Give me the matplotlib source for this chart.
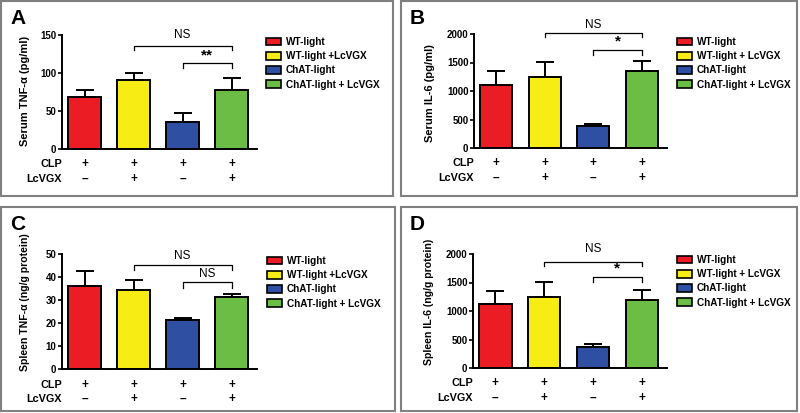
import numpy as np
import matplotlib.pyplot as plt
from matplotlib.patches import Patch, Rectangle

plt.rcParams['font.family'] = ['Liberation Sans', 'DejaVu Sans']
plt.rcParams['font.weight'] = 'bold'

colors = ['#ec1c24', '#f7ec14', '#2e4fa2', '#6bbd45']

# panel A - serum TNF-a
a_vals = [68, 91, 36, 78]
a_sem = [9, 9, 11, 16]
a_legend = ['WT-light', 'WT-light +LcVGX', 'ChAT-light', 'ChAT-light + LcVGX']

# panel B - serum IL-6
b_vals = [1106, 1241, 385, 1353]
b_sem = [247, 265, 30, 176]
b_legend = ['WT-light', 'WT-light + LcVGX', 'ChAT-light', 'ChAT-light + LcVGX']

# panel C - spleen TNF-a
c_vals = [36.3, 34.2, 21.1, 31.3]
c_sem = [6.3, 4.6, 1.2, 1.1]
c_legend = ['WT-light', 'WT-light +LcVGX', 'ChAT-light', 'ChAT-light + LcVGX']

# panel D - spleen IL-6
d_vals = [1115, 1250, 377, 1187]
d_sem = [234, 251, 42, 174]
d_legend = ['WT-light', 'WT-light + LcVGX', 'ChAT-light', 'ChAT-light + LcVGX']

clp_row = ['+', '+', '+', '+']
lcvgx_row = ['\u2013', '+', '\u2013', '+']

W, H = 800, 413
fig = plt.figure(figsize=(8, 4.13), dpi=100)


def fx(px):
    return px / W


def fy(py):
    return 1 - py / H


def panel(letter, box, axbox, vals, sem, ylabel, ylab_size, ylab_pos, yticks,
          legend, legxy, br1, br2):
    # gray frame
    x0, y0, x1, y1 = box
    fig.patches.append(Rectangle((fx(x0), fy(y1)), fx(x1 - x0), (y1 - y0) / H,
                                 transform=fig.transFigure, fill=False,
                                 edgecolor='#808080', lw=1.5))
    fig.text(fx(x0 + 9), fy(y0 + 17), letter, fontsize=15, fontweight='bold',
             va='center', ha='left')

    l, t, r, b = axbox
    ax = fig.add_axes([fx(l), fy(b), fx(r - l), (b - t) / H])
    x = np.arange(4)
    ax.errorbar(x, vals, yerr=[np.zeros(4), sem], fmt='none', ecolor='k',
                elinewidth=1.4, capsize=6.5, capthick=1.4, zorder=1)
    ax.bar(x, vals, width=0.66, color=colors, edgecolor='k', lw=1.4, zorder=2)
    ax.set_xlim(-0.46, 3.52)
    ax.set_ylim(yticks[0], yticks[-1])
    ax.set_yticks(yticks)
    ax.tick_params(axis='y', labelsize=7, length=3, width=1.2, pad=1)
    ax.set_xticks([])
    for s in ['top', 'right']:
        ax.spines[s].set_visible(False)
    for s in ['left', 'bottom']:
        ax.spines[s].set_linewidth(1.4)
    ax.set_ylabel(ylabel, fontsize=ylab_size, fontweight='bold')
    ax.yaxis.set_label_coords(ylab_pos[0], ylab_pos[1])

    # CLP / LcVGX rows
    ax.text(0.0, -0.135, 'CLP', transform=ax.transAxes, ha='right',
            va='center', fontsize=7.8, fontweight='bold')
    ax.text(0.0, -0.26, 'LcVGX', transform=ax.transAxes, ha='right',
            va='center', fontsize=7.8, fontweight='bold')
    tr = ax.get_xaxis_transform()
    for i in range(4):
        ax.text(x[i], -0.135, clp_row[i], transform=tr, ha='center',
                va='center', fontsize=8.5, fontweight='bold')
        ax.text(x[i], -0.26, lcvgx_row[i], transform=tr, ha='center',
                va='center', fontsize=8.5, fontweight='bold')

    # significance brackets
    for (i, j, yb, drop, txt, yt) in [br1, br2]:
        ax.plot([x[i], x[i], x[j], x[j]], [yb - drop, yb, yb, yb - drop],
                color='k', lw=0.9, clip_on=False)
        if txt == 'NS':
            ax.text((x[i] + x[j]) / 2, yt, txt, ha='center', va='center',
                    fontsize=8.5, fontweight='normal', clip_on=False)
        else:
            ax.text((x[i] + x[j]) / 2, yt, txt, ha='center', va='center',
                    fontsize=11, fontweight='bold', clip_on=False)

    handles = [Patch(facecolor=c, edgecolor='k', lw=1.2) for c in colors]
    fig.legend(handles, legend, loc='upper left',
               bbox_to_anchor=(fx(legxy[0]), fy(legxy[1])),
               frameon=False, handlelength=1.5, handleheight=0.8,
               handletextpad=0.5, labelspacing=0.42, borderpad=0,
               borderaxespad=0, prop={'weight': 'bold', 'size': 7.2})
    return ax


panel('A', (1, 1, 393, 196), (62, 35, 257, 149), a_vals, a_sem,
      'Serum TNF-\u03b1 (pg/ml)', 8, (-0.165, 0.51), [0, 50, 100, 150],
      a_legend, (266, 37),
      (1, 3, 136, 6, 'NS', 150), (2, 3, 113, 7, '**', 123))
panel('B', (401, 1, 797, 196), (474, 34, 667, 148), b_vals, b_sem,
      'Serum IL-6 (pg/ml)', 8, (-0.2, 0.48), [0, 500, 1000, 1500, 2000],
      b_legend, (677, 37),
      (1, 3, 2017, 76, 'NS', 2164), (2, 3, 1723, 88, '*', 1870))
panel('C', (1, 207, 395, 411), (62, 254, 257, 369), c_vals, c_sem,
      'Spleen TNF-\u03b1 (ng/g protein)', 7.6, (-0.165, 0.58),
      [0, 10, 20, 30, 40, 50], c_legend, (267, 256),
      (1, 3, 45.3, 2.3, 'NS', 49), (2, 3, 37.7, 2.5, 'NS', 41.3))
panel('D', (401, 207, 797, 411), (473, 254, 667, 368), d_vals, d_sem,
      'Spleen IL-6 (ng/g protein)', 7.6, (-0.2, 0.58),
      [0, 500, 1000, 1500, 2000], d_legend, (677, 255),
      (1, 3, 1860, 76, 'NS', 2094), (2, 3, 1600, 88, '*', 1745))

fig.savefig('out.png', dpi=100)
